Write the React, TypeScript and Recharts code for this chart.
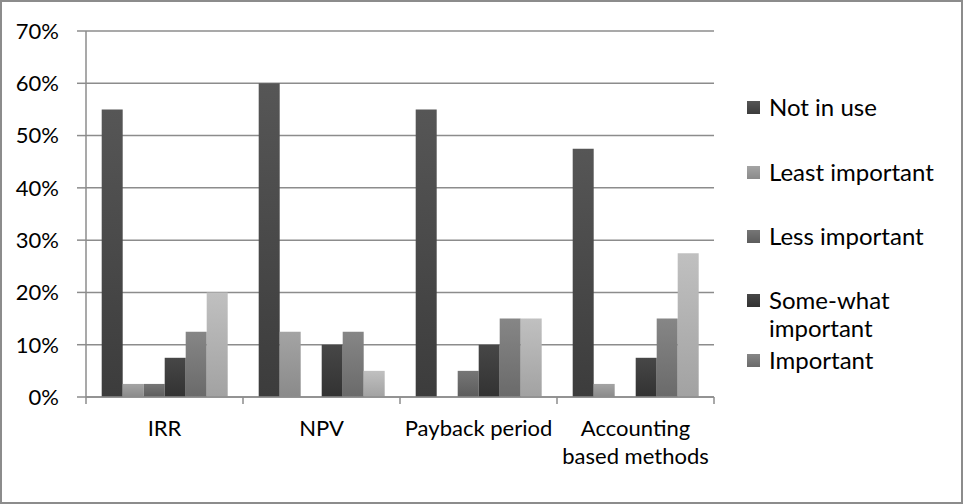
import { BarChart, Bar, XAxis, YAxis, CartesianGrid, Legend } from "recharts";

const categories = ["IRR", "NPV", "Payback period", "Accounting based methods"];
const categoryLines = [["IRR"], ["NPV"], ["Payback period"], ["Accounting", "based methods"]];
const notInUse = [55, 60, 55, 47.5];
const leastImportant = [2.5, 12.5, 0, 2.5];
const lessImportant = [2.5, 0, 5, 0];
const someWhatImportant = [7.5, 10, 10, 7.5];
const important = [12.5, 12.5, 15, 15];
const veryImportant = [20, 5, 15, 27.5];
const yTicks = [0, 10, 20, 30, 40, 50, 60, 70];

const SERIES = [
  { key: "notInUse", name: "Not in use", values: notInUse, top: "#565656", bottom: "#3c3c3c" },
  { key: "leastImportant", name: "Least important", values: leastImportant, top: "#a4a4a4", bottom: "#8a8a8a" },
  { key: "lessImportant", name: "Less important", values: lessImportant, top: "#767676", bottom: "#5c5c5c" },
  { key: "someWhatImportant", name: "Some-what important", values: someWhatImportant, top: "#474747", bottom: "#323232" },
  { key: "important", name: "Important", values: important, top: "#868686", bottom: "#6a6a6a" },
  { key: "veryImportant", name: "Very important", values: veryImportant, top: "#c0c0c0", bottom: "#a2a2a2" },
];

const data = categories.map((c, i) => {
  const row: any = { category: c };
  SERIES.forEach((s) => (row[s.key] = s.values[i]));
  return row;
});

const FONT = "Lato, 'Open Sans', sans-serif";
const GRID = "#8c8c8c";
const W = 963;
const H = 504;
const M = { top: 31, right: 249, left: 0, bottom: 0 };
const Y_W = 86;
const BAND = (W - Y_W - M.right) / categories.length;

/* ---------------- X TICK (label + boundary tick marks) ---------------- */
function CategoryTick(props: any) {
  const { x, y, index } = props;
  const left = x - BAND / 2;
  const right = x + BAND / 2;
  const lines = categoryLines[index] || [];
  return (
    <g>
      <line x1={left} x2={left} y1={y - 8} y2={y - 1} stroke={GRID} strokeWidth={1.5} />
      {index === categories.length - 1 && (
        <line x1={right} x2={right} y1={y - 8} y2={y - 1} stroke={GRID} strokeWidth={1.5} />
      )}
      <text x={x} y={y + 31} textAnchor="middle" fill="#000" style={{ fontFamily: FONT, fontSize: 22 }}>
        {lines.map((l, i) => (
          <tspan key={l} x={x} dy={i === 0 ? 0 : 28}>
            {l}
          </tspan>
        ))}
      </text>
    </g>
  );
}

/* ---------------- LEGEND (only the first five fit, like the original) ---------------- */
const LEGEND_GAPS = [0, 37, 36, 36, 4];

function LegendList() {
  return (
    <div style={{ fontFamily: FONT, fontSize: 24, color: "#000" }}>
      {SERIES.slice(0, 5).map((s, i) => (
        <div
          key={s.key}
          style={{ display: "flex", alignItems: "flex-start", marginTop: LEGEND_GAPS[i], lineHeight: "28px" }}
        >
          <span
            style={{
              width: 13,
              height: 13,
              marginTop: 8,
              marginRight: 9,
              flex: "none",
              background: `linear-gradient(${s.top}, ${s.bottom})`,
            }}
          />
          <span style={{ width: 180 }}>{s.name}</span>
        </div>
      ))}
    </div>
  );
}

export default function App() {
  return (
    <div
      style={{
        position: "absolute",
        left: 0,
        top: 0,
        width: W,
        height: H,
        background: "#fff",
        boxSizing: "border-box",
        border: "2px solid #8c8c8c",
        overflow: "hidden",
      }}
    >
      <div style={{ position: "absolute", left: -2, top: -2 }}>
        <BarChart width={W} height={H} data={data} margin={M} barCategoryGap="10%" barGap={0}>
          <defs>
            {SERIES.map((s) => (
              <linearGradient key={s.key} id={`g-${s.key}`} x1="0" y1="0" x2="0" y2="1">
                <stop offset="0%" stopColor={s.top} />
                <stop offset="100%" stopColor={s.bottom} />
              </linearGradient>
            ))}
          </defs>
          <CartesianGrid vertical={false} stroke={GRID} strokeWidth={1.5} />
          <XAxis
            dataKey="category"
            height={H - 397}
            axisLine={{ stroke: GRID, strokeWidth: 1.5 }}
            tickLine={false}
            tick={<CategoryTick />}
            interval={0}
          />
          <YAxis
            width={Y_W}
            domain={[0, 70]}
            ticks={yTicks}
            interval={0}
            tickFormatter={(v) => `${v}%`}
            axisLine={{ stroke: GRID, strokeWidth: 1.5 }}
            tickLine={{ stroke: GRID, strokeWidth: 1.5 }}
            tickSize={9}
            tickMargin={18}
            tick={{ fill: "#000", fontSize: 22, fontFamily: FONT }}
          />
          <Legend
            layout="vertical"
            align="center"
            verticalAlign="middle"
            content={<LegendList />}
            wrapperStyle={{ left: 747, top: 93, width: 215, height: 320 }}
          />
          {SERIES.map((s) => (
            <Bar key={s.key} dataKey={s.key} name={s.name} fill={`url(#g-${s.key})`} isAnimationActive={false} />
          ))}
        </BarChart>
      </div>
    </div>
  );
}
